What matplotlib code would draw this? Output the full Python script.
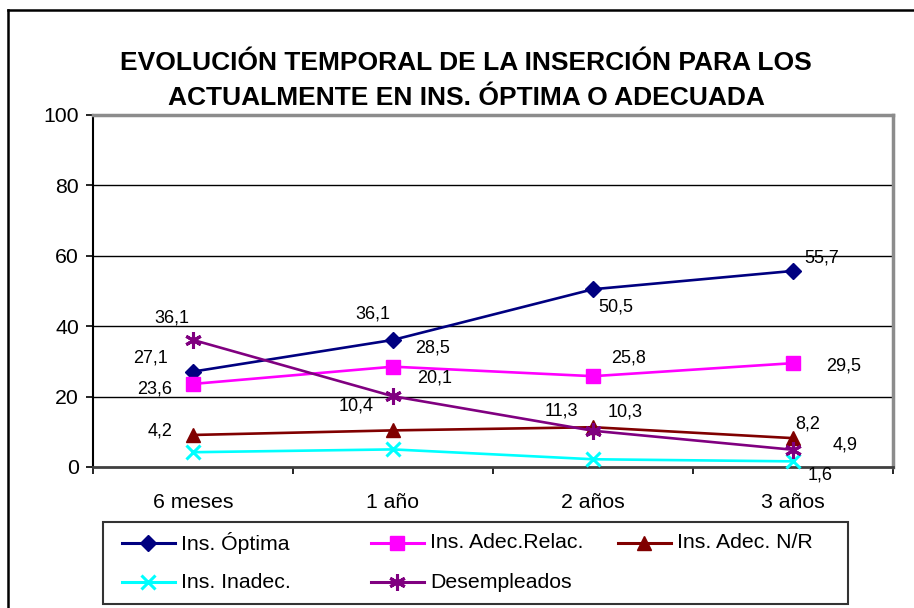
import matplotlib
matplotlib.use("Agg")
import matplotlib.pyplot as plt
from matplotlib.lines import Line2D
from matplotlib.patches import Rectangle

plt.rcParams['font.family'] = ['Liberation Sans', 'DejaVu Sans']

# ---- data ----
categories = ["6 meses", "1 año", "2 años", "3 años"]
series_names = ["Ins. Óptima", "Ins. Adec.Relac.", "Ins. Adec. N/R",
                "Ins. Inadec.", "Desempleados"]
optima = [27.1, 36.1, 50.5, 55.7]
adec_relac = [23.6, 28.5, 25.8, 29.5]
adec_nr = [9.1, 10.4, 11.3, 8.2]
inadec = [4.2, 5.0, 2.2, 1.6]
desempleados = [36.1, 20.1, 10.3, 4.9]
# which points carry a value label
labeled_optima = [True, True, True, True]
labeled_relac = [True, True, True, True]
labeled_nr = [False, True, True, True]
labeled_inadec = [True, False, False, True]
labeled_desemp = [True, True, True, True]
y_ticks = [0, 20, 40, 60, 80, 100]
title_lines = ["EVOLUCIÓN TEMPORAL DE LA INSERCIÓN PARA LOS",
               "ACTUALMENTE EN INS. ÓPTIMA O ADECUADA"]

# ---- styles ----
styles = [
    dict(color="#000080", marker="D", ms=8, mew=1),
    dict(color="#FF00FF", marker="s", ms=10, mew=1),
    dict(color="#800000", marker="^", ms=10.5, mew=1),
    dict(color="#00FFFF", marker="x", ms=10, mew=2.2),
    dict(color="#800080", marker=(6, 2, 0), ms=12, mew=2.2),
]
# label offsets in pixels (dx, dy) for each point
offsets = [
    [(-43, 14), (-20, 26), (23, -18), (29, 13)],
    [(-38, -5), (40, 19), (36, 18), (51, -3)],
    [(0, 0), (-37, 24), (-32, 16), (15, 14)],
    [(-33, 21), (0, 0), (0, 0), (27, -14)],
    [(-21, 22), (42, 18), (32, 19), (52, 5)],
]

all_values = [optima, adec_relac, adec_nr, inadec, desempleados]
all_labeled = [labeled_optima, labeled_relac, labeled_nr, labeled_inadec, labeled_desemp]

W, H = 914, 608
fig = plt.figure(figsize=(W / 100, H / 100), dpi=100)

# outer chart frame (top and left edges)
fig.add_artist(Line2D([8 / W, 1.0], [1 - 10 / H, 1 - 10 / H], color="black", lw=1.8,
                      transform=fig.transFigure))
fig.add_artist(Line2D([8 / W, 8 / W], [0.0, 1 - 10 / H], color="black", lw=1.8,
                      transform=fig.transFigure))

ax = fig.add_axes([93 / W, (H - 467) / H, 800 / W, 352 / H])
x = list(range(len(categories)))

for vals, lab, st, offs in zip(all_values, all_labeled, styles, offsets):
    ax.plot(x, vals, color=st["color"], lw=1.9, marker=st["marker"], ms=st["ms"],
            mew=st["mew"], mec=st["color"], mfc=st["color"], zorder=3, clip_on=False)
    for xi, v, show, (dx, dy) in zip(x, vals, lab, offs):
        if show:
            ax.annotate(f"{v:.1f}".replace(".", ","), (xi, v), xytext=(dx, dy),
                        textcoords="offset pixels", ha="center", va="center",
                        fontsize=13, color="black", zorder=4)

ax.set_xlim(-0.5, len(categories) - 0.5)
ax.set_ylim(0, 100)
ax.set_yticks(y_ticks)
ax.set_yticklabels([str(t) for t in y_ticks], fontsize=15.3)
ax.set_xticks(x)
ax.set_xticklabels(categories, fontsize=15.3)
ax.set_xticks([i - 0.5 for i in range(len(categories) + 1)], minor=True)
ax.tick_params(axis="x", which="major", length=0, pad=19)
ax.tick_params(axis="x", which="minor", direction="out", length=5, width=1.2, color="black")
ax.tick_params(axis="y", direction="out", length=5, width=1.2, pad=5)

for yv in y_ticks[1:-1]:
    ax.axhline(yv, color="black", lw=1, zorder=1)

ax.spines["left"].set_color("black")
ax.spines["left"].set_linewidth(1.5)
ax.spines["bottom"].set_color("#404040")
ax.spines["bottom"].set_linewidth(2)
ax.spines["top"].set_color("#8c8c8c")
ax.spines["top"].set_linewidth(2.5)
ax.spines["right"].set_color("#8c8c8c")
ax.spines["right"].set_linewidth(2.5)

# two-line bold title
for line, ty in zip(title_lines, [63, 98]):
    fig.text(466 / W, 1 - ty / H, line, ha="center", va="center", fontsize=19,
             fontweight="bold")

# legend box with equal-width columns
lx0, ly0, lx1, ly1 = 103, 522, 848, 604
fig.add_artist(Rectangle((lx0 / W, 1 - ly1 / H), (lx1 - lx0) / W, (ly1 - ly0) / H,
                         transform=fig.transFigure, fill=False, ec="#333333", lw=1.5))
col_x = [122, 371, 618]
row_y = [543, 582]
for i, (name, st) in enumerate(zip(series_names, styles)):
    cx = col_x[i % 3]
    cy = 1 - row_y[i // 3] / H
    fig.add_artist(Line2D([cx / W, (cx + 53) / W], [cy, cy], color=st["color"], lw=2.2,
                          transform=fig.transFigure))
    fig.add_artist(Line2D([(cx + 26) / W], [cy], color=st["color"], marker=st["marker"],
                          ms=st["ms"], mew=st["mew"], mfc=st["color"], mec=st["color"],
                          transform=fig.transFigure))
    fig.text((cx + 59) / W, cy, name, ha="left", va="center", fontsize=15.3)

fig.savefig("out.png", dpi=100, facecolor="white")
